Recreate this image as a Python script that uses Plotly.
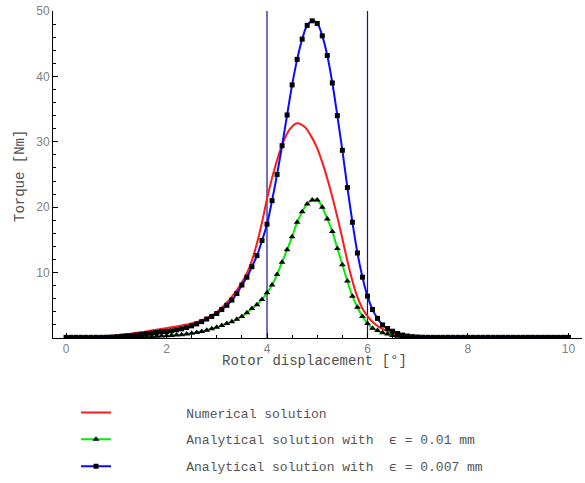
import plotly.graph_objects as go

# ---------------- data ----------------
x_analytical = [round(i * 0.1, 1) for i in range(101)]

torque_eps_0007 = [
    0.1, 0.1, 0.1, 0.1, 0.1, 0.1, 0.1, 0.1, 0.12, 0.15,      # 0.0-0.9
    0.2, 0.25, 0.3, 0.35, 0.45, 0.55, 0.65, 0.75, 0.85, 0.95,  # 1.0-1.9
    1.0, 1.1, 1.25, 1.4, 1.6, 1.85, 2.15, 2.5, 2.9, 3.3,       # 2.0-2.9
    3.75, 4.35, 5.0, 5.8, 6.8, 8.1, 9.3, 10.9, 12.6, 14.9,     # 3.0-3.9
    17.4, 21.0, 25.0, 29.4, 34.1, 38.7, 42.6, 45.7, 47.8, 48.5,  # 4.0-4.9
    48.1, 46.2, 43.2, 39.0, 34.0, 28.7, 23.0, 17.7, 13.0, 9.3,   # 5.0-5.9
    6.4, 4.35, 3.0, 2.0, 1.45, 1.04, 0.69, 0.45, 0.3, 0.2,     # 6.0-6.9
    0.15, 0.12, 0.1, 0.1, 0.1, 0.1, 0.1, 0.1, 0.1, 0.1,        # 7.0-7.9
    0.1, 0.1, 0.1, 0.1, 0.1, 0.1, 0.1, 0.1, 0.1, 0.1,          # 8.0-8.9
    0.1, 0.1, 0.1, 0.1, 0.1, 0.1, 0.1, 0.1, 0.1, 0.1,          # 9.0-9.9
    0.1,                                                       # 10.0
]

torque_eps_001 = [
    0.05, 0.05, 0.05, 0.05, 0.05, 0.05, 0.05, 0.05, 0.05, 0.05,  # 0.0-0.9
    0.05, 0.06, 0.08, 0.1, 0.12, 0.15, 0.18, 0.2, 0.25, 0.3,     # 1.0-1.9
    0.35, 0.4, 0.45, 0.5, 0.6, 0.72, 0.85, 1.0, 1.2, 1.42,       # 2.0-2.9
    1.65, 1.9, 2.2, 2.5, 2.85, 3.3, 3.85, 4.5, 5.1, 5.9,         # 3.0-3.9
    6.9, 8.1, 9.7, 11.6, 13.5, 15.5, 17.7, 19.3, 20.5, 21.1,     # 4.0-4.9
    21.1, 20.0, 18.2, 16.3, 13.7, 11.2, 8.7, 6.4, 4.7, 3.3,      # 5.0-5.9
    2.2, 1.5, 1.15, 0.8, 0.6, 0.4, 0.25, 0.15, 0.1, 0.07,        # 6.0-6.9
    0.05, 0.05, 0.05, 0.05, 0.05, 0.05, 0.05, 0.05, 0.05, 0.05,  # 7.0-7.9
    0.05, 0.05, 0.05, 0.05, 0.05, 0.05, 0.05, 0.05, 0.05, 0.05,  # 8.0-8.9
    0.05, 0.05, 0.05, 0.05, 0.05, 0.05, 0.05, 0.05, 0.05, 0.05,  # 9.0-9.9
    0.05,                                                        # 10.0
]

x_numerical = [0, 0.5, 1.0, 1.2, 1.6, 2.0, 2.4, 2.67, 2.93, 3.16, 3.36, 3.53,
               3.66, 3.79, 3.91, 4.0, 4.13, 4.29, 4.45, 4.6, 4.75, 4.86,
               4.99, 5.12, 5.25, 5.39, 5.5, 5.57, 5.66, 5.78, 5.91, 6.08,
               6.25, 6.45, 6.65, 6.9, 7.2, 10]
torque_numerical = [0, 0.1, 0.4, 0.6, 1.0, 1.5, 2.05, 2.6, 3.6, 5.1, 6.9, 8.9,
                    11.0, 14.2, 18.0, 21.3, 25.3, 29.3, 31.9, 32.85, 32.3, 31.1,
                    29.2, 26.4, 23.0, 18.8, 15.2, 12.8, 9.9, 6.7, 4.35, 2.6,
                    1.6, 0.9, 0.45, 0.15, 0.05, 0.0]

marker_lines = [4, 6]
x_ticks = [0, 2, 4, 6, 8, 10]
y_ticks = [10, 20, 30, 40, 50]

series_names = ["Numerical solution",
                "Analytical solution with  \u03f5 = 0.01 mm",
                "Analytical solution with  \u03f5 = 0.007 mm"]

# ---------------- figure ----------------
pad = "\u00a0" * 9
mono = "Liberation Mono"

fig = go.Figure()

for xv in marker_lines:
    fig.add_trace(go.Scatter(x=[xv, xv], y=[0, 50], mode="lines",
                             line=dict(color="#14148c", width=1.2),
                             showlegend=False, hoverinfo="skip"))

fig.add_trace(go.Scatter(x=x_numerical, y=torque_numerical, mode="lines",
                         line=dict(color="#ff1a1a", width=2, shape="spline"),
                         name=pad + series_names[0], legendgroup="a"))
fig.add_trace(go.Scatter(x=x_analytical, y=torque_eps_001, mode="lines+markers",
                         line=dict(color="#00ee00", width=2, shape="spline"),
                         marker=dict(symbol="triangle-up", size=6, color="black"),
                         name=pad + series_names[1], legendgroup="b"))
fig.add_trace(go.Scatter(x=x_analytical, y=torque_eps_0007, mode="lines+markers",
                         line=dict(color="#0a0aff", width=2, shape="spline"),
                         marker=dict(symbol="square", size=5, color="black"),
                         name=pad + series_names[2], legendgroup="c"))

fig.update_layout(
    width=585, height=483,
    margin=dict(l=53, r=3, t=11, b=144.5, pad=0, autoexpand=False),
    paper_bgcolor="white", plot_bgcolor="white",
    showlegend=True,
    legend=dict(x=0.0435, y=-0.182, xanchor="left", yanchor="top",
                traceorder="grouped", tracegroupgap=7,
                font=dict(family=mono, size=13, color="#555555"),
                bgcolor="rgba(0,0,0,0)"),
    xaxis=dict(range=[-0.26, 10.27], tickvals=x_ticks, ticks="inside", ticklen=5,
               tickcolor="black", showline=True, linecolor="black", linewidth=1,
               showgrid=False, zeroline=False, automargin=False,
               ticklabeloverflow="allow",
               minor=dict(dtick=0.5, ticks="inside", ticklen=3, tickcolor="black"),
               tickfont=dict(family="Liberation Sans", size=12, color="#808080")),
    yaxis=dict(range=[0, 50], tickvals=y_ticks, ticks="inside", ticklen=5,
               tickcolor="black", showline=True, linecolor="black", linewidth=1,
               showgrid=False, zeroline=False, automargin=False,
               ticklabeloverflow="allow",
               minor=dict(dtick=2, ticks="inside", ticklen=3, tickcolor="black"),
               tickfont=dict(family="Liberation Sans", size=12, color="#808080")),
    annotations=[
        dict(text="Rotor displacement [\u00b0]", xref="paper", yref="paper",
             x=0.495, y=-0.069, showarrow=False, xanchor="center", yanchor="middle",
             font=dict(family=mono, size=14, color="#505050")),
        dict(text="Torque [Nm]", xref="paper", yref="paper", textangle=-90,
             x=-0.062, y=0.496, showarrow=False, xanchor="center", yanchor="middle",
             font=dict(family=mono, size=14, color="#505050")),
    ],
)

# remove the browser's default 8px body margin so the figure sits at (0, 0)
fig.write_html("out.html",
               config={"displayModeBar": False},
               post_script="document.body.style.margin='0px';document.body.style.overflow='hidden';")
